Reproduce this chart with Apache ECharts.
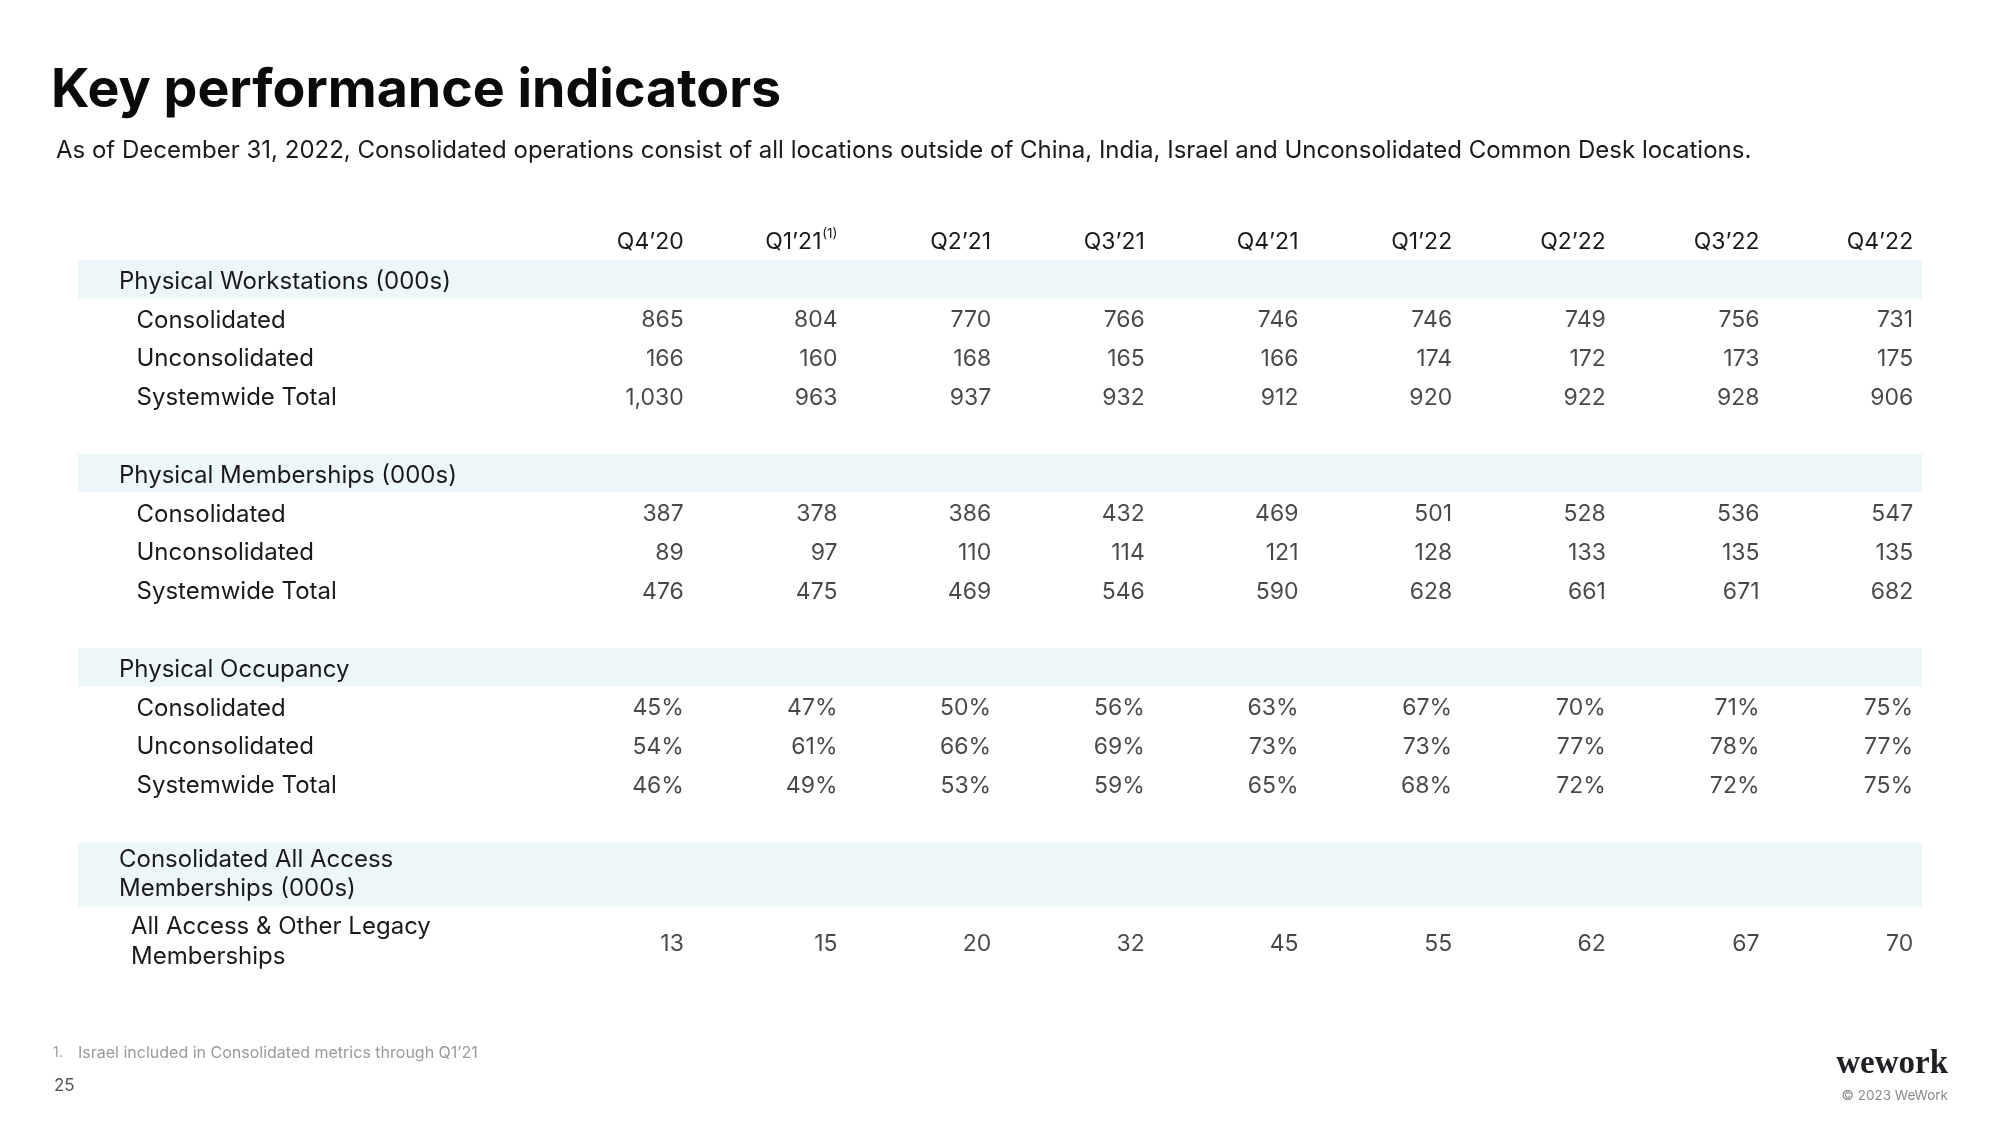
<!DOCTYPE html>
<html>
<head>
<meta charset="utf-8">
<script src="https://cdn.jsdelivr.net/npm/echarts@6/dist/echarts.min.js"></script>
<style>
html,body{margin:0;padding:0;background:#ffffff;}
#chart{width:2000px;height:1125px;}
</style>
</head>
<body>
<div id="chart"></div>
<script>
// ---------- data ----------
const quarters = ['Q4’20', 'Q1’21', 'Q2’21', 'Q3’21', 'Q4’21', 'Q1’22', 'Q2’22', 'Q3’22', 'Q4’22'];
const footnoteQuarter = 'Q1’21';
const footnoteMark = '(1)';
const labelColumns = ['label-a', 'label-b', 'label-c'];

const workstationRows = ['Physical Workstations (000s)', 'Consolidated', 'Unconsolidated', 'Systemwide Total'];
const membershipRows = ['Physical Memberships (000s)', 'Consolidated', 'Unconsolidated', 'Systemwide Total'];
const occupancyRows = ['Physical Occupancy', 'Consolidated', 'Unconsolidated', 'Systemwide Total'];
const allAccessRows = ['Consolidated All Access\nMemberships (000s)', 'All Access & Other Legacy\nMemberships'];

const workstationsConsolidated = [865, 804, 770, 766, 746, 746, 749, 756, 731];
const workstationsUnconsolidated = [166, 160, 168, 165, 166, 174, 172, 173, 175];
const workstationsTotal = [1030, 963, 937, 932, 912, 920, 922, 928, 906];

const membershipsConsolidated = [387, 378, 386, 432, 469, 501, 528, 536, 547];
const membershipsUnconsolidated = [89, 97, 110, 114, 121, 128, 133, 135, 135];
const membershipsTotal = [476, 475, 469, 546, 590, 628, 661, 671, 682];

const occupancyConsolidated = [45, 47, 50, 56, 63, 67, 70, 71, 75];
const occupancyUnconsolidated = [54, 61, 66, 69, 73, 73, 77, 78, 77];
const occupancyTotal = [46, 49, 53, 59, 65, 68, 72, 72, 75];

const allAccessMemberships = [13, 15, 20, 32, 45, 55, 62, 67, 70];

const titleText = 'Key performance indicators';
const subtitleText = 'As of December 31, 2022, Consolidated operations consist of all locations outside of China, India, Israel and Unconsolidated Common Desk locations.';
const footnoteNumber = '1.';
const footnoteText = 'Israel included in Consolidated metrics through Q1’21';
const pageNumber = '25';
const brandText = 'wework';
const copyrightText = '© 2023 WeWork';

// ---------- style ----------
const FONT = 'Inter';
const TEXT = '#1a1a1a';
const BAND = '#edf6f9';
const VALUE_SIZE = 23;
const LABEL_SIZE = 24;

const sections = [
  { rows: workstationRows, values: [null, workstationsConsolidated, workstationsUnconsolidated, workstationsTotal], pct: false, top: 260, rowH: 38.7, bandH: 38.5, sub: 's', head: 'h' },
  { rows: membershipRows, values: [null, membershipsConsolidated, membershipsUnconsolidated, membershipsTotal], pct: false, top: 454, rowH: 38.7, bandH: 38.5, sub: 's', head: 'h' },
  { rows: occupancyRows, values: [null, occupancyConsolidated, occupancyUnconsolidated, occupancyTotal], pct: true, top: 648, rowH: 38.7, bandH: 38.5, sub: 's', head: 'h' },
  { rows: allAccessRows, values: [null, allAccessMemberships], pct: false, top: 840.5, rowH: 67.5, bandH: 64, sub: 't', head: 'h2' }
];

const fmt = (v, pct) => pct ? v + '%' : v.toLocaleString('en-US');

const grids = [], xAxes = [], yAxes = [], series = [];
const columns = labelColumns.concat(quarters);

sections.forEach((sec, k) => {
  grids.push({ left: 78, right: 78, top: sec.top, height: sec.rowH * sec.rows.length });
  xAxes.push({
    type: 'category', gridIndex: k, data: columns, position: 'top', boundaryGap: true,
    show: k === 0,
    axisLine: { show: false }, axisTick: { show: false }, splitLine: { show: false },
    axisLabel: {
      show: k === 0, interval: 0, margin: 3,
      formatter: v => {
        if (quarters.indexOf(v) < 0) return '';
        if (v === footnoteQuarter) return '{q1|' + v + '}{sup|' + footnoteMark + '}';
        return '{q|' + v + '}';
      },
      rich: {
        q: { width: 136, align: 'right', fontFamily: FONT, fontSize: VALUE_SIZE, color: TEXT, lineHeight: 30 },
        q1: { width: 120, align: 'right', fontFamily: FONT, fontSize: VALUE_SIZE, color: TEXT, lineHeight: 30 },
        sup: { width: 16, align: 'right', fontFamily: FONT, fontSize: 13.5, color: TEXT, lineHeight: 14, verticalAlign: 'top' }
      }
    }
  });
  xAxes.push({ type: 'value', gridIndex: k, min: 0, max: 1, show: false });
  yAxes.push({
    type: 'category', gridIndex: k, data: sec.rows, inverse: true, z: 10,
    axisLine: { show: false }, axisTick: { show: false }, splitLine: { show: false },
    axisLabel: {
      inside: true, margin: 41, interval: 0,
      formatter: (v, idx) => {
        const cls = idx === 0 ? sec.head : sec.sub;
        return v.split('\n').map(l => '{' + cls + '|' + l + '}').join('\n');
      },
      rich: {
        h: { fontFamily: FONT, fontSize: LABEL_SIZE, color: TEXT, lineHeight: 29.5, padding: [4, 0, 0, 0] },
        h2: { fontFamily: FONT, fontSize: LABEL_SIZE, color: TEXT, lineHeight: 29.5 },
        s: { fontFamily: FONT, fontSize: LABEL_SIZE, color: TEXT, lineHeight: 29.5, padding: [5, 0, 0, 17.5] },
        t: { fontFamily: FONT, fontSize: LABEL_SIZE, color: TEXT, lineHeight: 29.5, padding: [0, 0, 0, 12] }
      }
    }
  });
  series.push({
    type: 'bar', xAxisIndex: 2 * k + 1, yAxisIndex: k, z: 1, silent: true,
    barWidth: sec.bandH, itemStyle: { color: BAND },
    data: sec.rows.map((r, j) => j === 0 ? 1 : null)
  });
  sec.values.forEach((vals, j) => {
    if (!vals) return;
    series.push({
      type: 'scatter', xAxisIndex: 2 * k, yAxisIndex: k, z: 5, silent: true,
      symbol: 'rect', symbolSize: [136, 30], itemStyle: { color: 'rgba(0,0,0,0)' },
      label: {
        show: true, position: 'insideRight', distance: 0, offset: [0, 2.5],
        fontFamily: FONT, fontSize: VALUE_SIZE, color: TEXT,
        formatter: p => fmt(p.value[2], sec.pct)
      },
      data: vals.map((v, i) => [quarters[i], sec.rows[j], v])
    });
  });
});

const chart = echarts.init(document.getElementById('chart'), null, { renderer: 'canvas' });
chart.setOption({
  backgroundColor: '#ffffff',
  animation: false,
  grid: grids,
  xAxis: xAxes,
  yAxis: yAxes,
  series: series,
  graphic: [
    { type: 'text', x: 51, y: 91, style: { text: titleText, fontFamily: FONT, fontSize: 53.7, fontWeight: 'bold', fill: '#0a0a0a', verticalAlign: 'middle' } },
    { type: 'text', x: 56, y: 151, style: { text: subtitleText, fontFamily: FONT, fontSize: 24, fill: TEXT, verticalAlign: 'middle' } },
    { type: 'text', x: 53, y: 1053, style: { text: footnoteNumber, fontFamily: FONT, fontSize: 14, fill: '#9a9a9a', verticalAlign: 'middle' } },
    { type: 'text', x: 78, y: 1053, style: { text: footnoteText, fontFamily: FONT, fontSize: 16, fill: '#9a9a9a', verticalAlign: 'middle' } },
    { type: 'text', x: 54, y: 1086, style: { text: pageNumber, fontFamily: FONT, fontSize: 17, fill: '#555555', verticalAlign: 'middle' } },
    { type: 'text', x: 1948, y: 1064, style: { text: brandText, fontFamily: 'Liberation Serif', fontSize: 33, fontWeight: 'bold', fill: '#1f1f24', align: 'right', verticalAlign: 'middle' } },
    { type: 'text', x: 1948, y: 1096, style: { text: copyrightText, fontFamily: FONT, fontSize: 13.5, fill: '#8a8a8a', align: 'right', verticalAlign: 'middle' } }
  ]
});
</script>
</body>
</html>
